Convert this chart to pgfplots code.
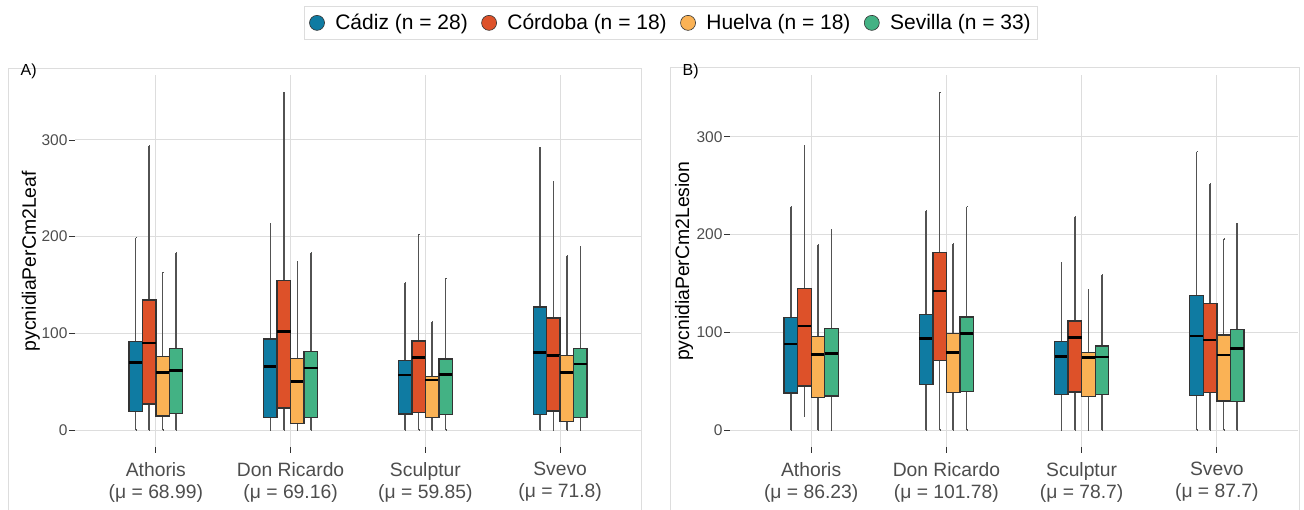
\documentclass[border=0pt]{standalone}
\usepackage{fontspec}
\setmainfont{Liberation Sans}
\usepackage{pgfplots}
\usepackage{pgfplotstable}
\pgfplotsset{compat=1.18}
\usepgfplotslibrary{statistics}

\definecolor{cadiz}{HTML}{0F7BA2}
\definecolor{cordoba}{HTML}{DD5129}
\definecolor{huelva}{HTML}{FAB255}
\definecolor{sevilla}{HTML}{43B284}
\definecolor{gridc}{HTML}{DDDDDD}
\definecolor{textgrey}{HTML}{4D4D4D}
\definecolor{boxline}{HTML}{333333}

% Box statistics per region; rows: Athoris, Don Ricardo, Sculptur, Svevo
% --- pycnidia per cm2 of leaf
\pgfplotstableread{
lw lq med uq uw
0 19.0 69.7 91.4 199.0
0 12.8 65.9 94.1 213.0
0 16.6 56.9 71.7 152.4
0 15.9 80.3 127.2 292.4
}\LeafCadiz
\pgfplotstableread{
lw lq med uq uw
0 26.9 90.0 134.5 293.8
0 22.8 101.7 154.8 349.3
0 18.3 74.8 92.0 202.4
0 19.7 76.9 115.9 256.6
}\LeafCordoba
\pgfplotstableread{
lw lq med uq uw
0 14.5 59.3 75.9 163.0
0 6.9 50.3 74.1 174.5
0 12.8 51.7 55.2 112.0
0 8.6 59.3 77.2 180.0
}\LeafHuelva
\pgfplotstableread{
lw lq med uq uw
0 17.2 61.4 84.1 183.4
0 12.8 64.1 81.0 183.1
0 16.2 57.6 73.4 156.9
0 12.8 68.3 84.1 189.3
}\LeafSevilla
% --- pycnidia per cm2 of lesion
\pgfplotstableread{
lw lq med uq uw
0 37.8 88.0 114.9 228.4
0 46.4 93.4 118.0 224.0
0 36.5 75.3 90.4 171.5
0 35.5 96.1 137.4 284.7
}\LesionCadiz
\pgfplotstableread{
lw lq med uq uw
14.3 45.0 106.4 144.6 290.5
0 70.9 142.2 181.4 345.4
0 38.9 94.8 111.5 218.2
0 38.5 92.1 129.6 251.6
}\LesionCordoba
\pgfplotstableread{
lw lq med uq uw
0 33.4 77.4 95.8 189.6
0 38.5 79.1 98.9 190.2
0 34.4 74.0 79.4 143.9
0 29.7 76.7 97.2 195.4
}\LesionHuelva
\pgfplotstableread{
lw lq med uq uw
0 34.8 78.4 104.0 204.6
0 39.2 98.9 115.6 228.4
0 36.5 74.7 85.9 158.5
0 29.0 83.5 102.6 211.4
}\LesionSevilla

% one box: #1 table, #2 row, #3 position, #4 fill colour
\newcommand{\regionbox}[4]{%
  \pgfplotstablegetelem{#2}{lw}\of#1\let\bxlw\pgfplotsretval
  \pgfplotstablegetelem{#2}{lq}\of#1\let\bxlq\pgfplotsretval
  \pgfplotstablegetelem{#2}{med}\of#1\let\bxmed\pgfplotsretval
  \pgfplotstablegetelem{#2}{uq}\of#1\let\bxuq\pgfplotsretval
  \pgfplotstablegetelem{#2}{uw}\of#1\let\bxuw\pgfplotsretval
  \edef\bxplot{\noexpand\addplot[fill=#4, draw=boxline, line width=1.3pt,
    boxplot prepared={draw position=#3,
      lower whisker=\bxlw, lower quartile=\bxlq, median=\bxmed,
      upper quartile=\bxuq, upper whisker=\bxuw}]
    coordinates {};}%
  \bxplot}

% legend key: a filled circle
\newcommand{\circlekey}[1]{%
  \addlegendimage{legend image code/.code={%
    \draw[fill=#1, draw=boxline, line width=0.6pt] (7.5pt,0pt) circle (7.5pt);}}}

\pgfplotsset{
  panel/.style={
    scale only axis, width=566pt, height=371.5pt,
    xmin=0.4, xmax=4.6,
    xtick={1,2,3,4}, ytick={0,100,200,300},
    tick pos=left, tick align=outside, major tick length=6pt,
    tick style={draw=boxline, line width=0.8pt},
    axis line style={draw=none},
    grid=major, major grid style={draw=gridc, line width=1pt},
    /pgf/number format/assume math mode=true,
    yticklabel style={font=\fontsize{15.5}{18}\selectfont, text=textgrey, xshift=2pt},
    xticklabel style={font=\fontsize{19.3}{22}\selectfont, text=textgrey, align=center, yshift=-6pt},
    ylabel style={font=\fontsize{19.4}{23}\selectfont, text=black},
    boxplot/draw direction=y,
    boxplot/box extend=0.1,
    boxplot/whisker extend=0.001,
    boxplot/every box/.style={draw=boxline, line width=1.3pt},
    boxplot/every whisker/.style={draw=boxline!85!white, line width=1.4pt},
    boxplot/every median/.style={draw=black, line width=2.5pt},
  }
}

\begin{document}
\begin{tikzpicture}
% frames around the two panels
\draw[gridc, line width=1pt] (8.3pt,-2pt) rectangle (641pt,440.7pt);
\draw[gridc, line width=1pt] (670.7pt,-2pt) rectangle (1299pt,441pt);

\begin{axis}[panel, at={(75pt,62.1pt)}, anchor=south west,
  ymin=-17.47, ymax=366.8,
  xticklabels={{Athoris\\(μ = 68.99)},{Don Ricardo\\(μ = 69.16)},{Sculptur\\(μ = 59.85)},{Svevo\\(μ = 71.8)}},
  ylabel={pycnidiaPerCm2Leaf},
  ylabel style={at={(axis description cs:-0.078,0.5)}, anchor=center},
  legend columns=4, legend cell align=left,
  legend style={at={(1.053,1.1414)}, anchor=center, draw=gridc, line width=1pt,
    font=\fontsize{21}{25}\selectfont, inner xsep=4.5pt, inner ysep=6.3pt,
    /tikz/every odd column/.append style={column sep=8.5pt},
    /tikz/every even column/.append style={column sep=11.5pt}},
]
\circlekey{cadiz}
\circlekey{cordoba}
\circlekey{huelva}
\circlekey{sevilla}
\legend{Cádiz (n = 28),Córdoba (n = 18),Huelva (n = 18),Sevilla (n = 33)}
\regionbox{\LeafCadiz}{0}{0.85}{cadiz}
\regionbox{\LeafCordoba}{0}{0.95}{cordoba}
\regionbox{\LeafHuelva}{0}{1.05}{huelva}
\regionbox{\LeafSevilla}{0}{1.15}{sevilla}
\regionbox{\LeafCadiz}{1}{1.85}{cadiz}
\regionbox{\LeafCordoba}{1}{1.95}{cordoba}
\regionbox{\LeafHuelva}{1}{2.05}{huelva}
\regionbox{\LeafSevilla}{1}{2.15}{sevilla}
\regionbox{\LeafCadiz}{2}{2.85}{cadiz}
\regionbox{\LeafCordoba}{2}{2.95}{cordoba}
\regionbox{\LeafHuelva}{2}{3.05}{huelva}
\regionbox{\LeafSevilla}{2}{3.15}{sevilla}
\regionbox{\LeafCadiz}{3}{3.85}{cadiz}
\regionbox{\LeafCordoba}{3}{3.95}{cordoba}
\regionbox{\LeafHuelva}{3}{4.05}{huelva}
\regionbox{\LeafSevilla}{3}{4.15}{sevilla}
\end{axis}

\begin{axis}[panel, at={(730pt,62.1pt)}, anchor=south west, width=568pt,
  ymin=-17.27, ymax=362.7,
  xticklabels={{Athoris\\(μ = 86.23)},{Don Ricardo\\(μ = 101.78)},{Sculptur\\(μ = 78.7)},{Svevo\\(μ = 87.7)}},
  ylabel={pycnidiaPerCm2Lesion},
  ylabel style={at={(axis description cs:-0.081,0.5)}, anchor=center},
]
\regionbox{\LesionCadiz}{0}{0.85}{cadiz}
\regionbox{\LesionCordoba}{0}{0.95}{cordoba}
\regionbox{\LesionHuelva}{0}{1.05}{huelva}
\regionbox{\LesionSevilla}{0}{1.15}{sevilla}
\regionbox{\LesionCadiz}{1}{1.85}{cadiz}
\regionbox{\LesionCordoba}{1}{1.95}{cordoba}
\regionbox{\LesionHuelva}{1}{2.05}{huelva}
\regionbox{\LesionSevilla}{1}{2.15}{sevilla}
\regionbox{\LesionCadiz}{2}{2.85}{cadiz}
\regionbox{\LesionCordoba}{2}{2.95}{cordoba}
\regionbox{\LesionHuelva}{2}{3.05}{huelva}
\regionbox{\LesionSevilla}{2}{3.15}{sevilla}
\regionbox{\LesionCadiz}{3}{3.85}{cadiz}
\regionbox{\LesionCordoba}{3}{3.95}{cordoba}
\regionbox{\LesionHuelva}{3}{4.05}{huelva}
\regionbox{\LesionSevilla}{3}{4.15}{sevilla}
\end{axis}

\node[anchor=west, inner sep=0pt, font=\fontsize{16}{19}\selectfont] at (20.5pt,437.5pt) {A)};
\node[anchor=west, inner sep=0pt, font=\fontsize{16}{19}\selectfont] at (682.5pt,437.5pt) {B)};

\pgfresetboundingbox
\useasboundingbox (0pt,0pt) rectangle (1304pt,509pt);
\end{tikzpicture}
\end{document}
